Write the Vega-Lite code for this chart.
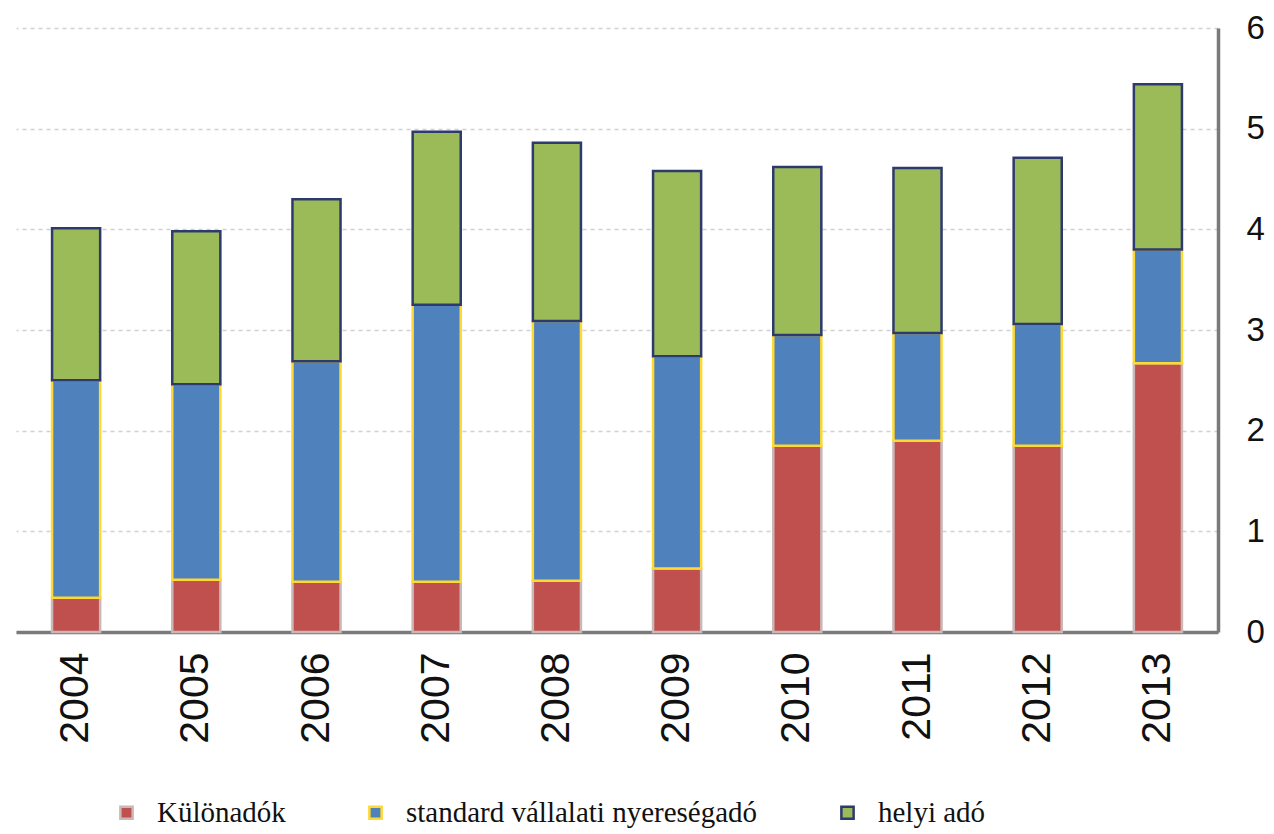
{
  "$schema": "https://vega.github.io/schema/vega-lite/v6.json",
  "autosize": {"type": "none"},
  "padding": {"left": 16, "top": 28, "right": 56, "bottom": 202},
  "width": 1202,
  "height": 604,
  "background": "white",
  "config": {"view": {"stroke": null}},
  "data": {"values": [
    {"ev": "2004", "kat": "Különadók", "o": 1, "v": 0.34},
    {"ev": "2004", "kat": "standard vállalati nyereségadó", "o": 2, "v": 2.16},
    {"ev": "2004", "kat": "helyi adó", "o": 3, "v": 1.51},
    {"ev": "2005", "kat": "Különadók", "o": 1, "v": 0.52},
    {"ev": "2005", "kat": "standard vállalati nyereségadó", "o": 2, "v": 1.94},
    {"ev": "2005", "kat": "helyi adó", "o": 3, "v": 1.52},
    {"ev": "2006", "kat": "Különadók", "o": 1, "v": 0.50},
    {"ev": "2006", "kat": "standard vállalati nyereségadó", "o": 2, "v": 2.19},
    {"ev": "2006", "kat": "helyi adó", "o": 3, "v": 1.61},
    {"ev": "2007", "kat": "Különadók", "o": 1, "v": 0.50},
    {"ev": "2007", "kat": "standard vállalati nyereségadó", "o": 2, "v": 2.75},
    {"ev": "2007", "kat": "helyi adó", "o": 3, "v": 1.72},
    {"ev": "2008", "kat": "Különadók", "o": 1, "v": 0.51},
    {"ev": "2008", "kat": "standard vállalati nyereségadó", "o": 2, "v": 2.58},
    {"ev": "2008", "kat": "helyi adó", "o": 3, "v": 1.77},
    {"ev": "2009", "kat": "Különadók", "o": 1, "v": 0.63},
    {"ev": "2009", "kat": "standard vállalati nyereségadó", "o": 2, "v": 2.11},
    {"ev": "2009", "kat": "helyi adó", "o": 3, "v": 1.84},
    {"ev": "2010", "kat": "Különadók", "o": 1, "v": 1.85},
    {"ev": "2010", "kat": "standard vállalati nyereségadó", "o": 2, "v": 1.10},
    {"ev": "2010", "kat": "helyi adó", "o": 3, "v": 1.67},
    {"ev": "2011", "kat": "Különadók", "o": 1, "v": 1.90},
    {"ev": "2011", "kat": "standard vállalati nyereségadó", "o": 2, "v": 1.07},
    {"ev": "2011", "kat": "helyi adó", "o": 3, "v": 1.64},
    {"ev": "2012", "kat": "Különadók", "o": 1, "v": 1.85},
    {"ev": "2012", "kat": "standard vállalati nyereségadó", "o": 2, "v": 1.21},
    {"ev": "2012", "kat": "helyi adó", "o": 3, "v": 1.65},
    {"ev": "2013", "kat": "Különadók", "o": 1, "v": 2.67},
    {"ev": "2013", "kat": "standard vállalati nyereségadó", "o": 2, "v": 1.13},
    {"ev": "2013", "kat": "helyi adó", "o": 3, "v": 1.64}
  ]},
  "mark": {"type": "bar", "strokeWidth": 2.5},
  "encoding": {
    "x": {
      "field": "ev", "type": "nominal", "title": null,
      "scale": {"paddingInner": 0.6, "paddingOuter": 0.3},
      "axis": {
        "labelAngle": -90, "labelAlign": "right", "labelBaseline": "middle",
        "labelFont": "Liberation Sans", "labelFontSize": 41, "labelColor": "#111111",
        "labelPadding": 20, "ticks": false,
        "domainColor": "#7a7a7a", "domainWidth": 3.5
      }
    },
    "y": {
      "field": "v", "type": "quantitative", "stack": "zero", "title": null,
      "scale": {"domain": [0, 6], "nice": false},
      "axis": {
        "orient": "right", "values": [0, 1, 2, 3, 4, 5, 6],
        "labelFont": "Liberation Sans", "labelFontSize": 33, "labelColor": "#111111",
        "labelPadding": 28, "ticks": false,
        "domainColor": "#7a7a7a", "domainWidth": 3.5,
        "grid": true, "gridColor": "#d0d0d0", "gridDash": [4, 4], "gridWidth": 1.5
      }
    },
    "fill": {
      "field": "kat", "type": "nominal", "title": null,
      "scale": {
        "domain": ["Különadók", "standard vállalati nyereségadó", "helyi adó"],
        "range": ["#C0504D", "#4F81BD", "#9BBB59"]
      },
      "legend": {
        "orient": "none", "legendX": 96, "legendY": 770, "direction": "horizontal",
        "columns": 3, "columnPadding": 75, "symbolType": "square", "symbolSize": 150,
        "symbolStrokeWidth": 2.5, "labelFont": "Liberation Serif", "labelFontSize": 29,
        "labelColor": "#111111", "labelLimit": 420, "labelOffset": 16
      }
    },
    "stroke": {
      "field": "kat", "type": "nominal", "title": null,
      "scale": {
        "domain": ["Különadók", "standard vállalati nyereségadó", "helyi adó"],
        "range": ["#C9B8B8", "#FFD92F", "#2E3A6E"]
      },
      "legend": null
    },
    "order": {"field": "o", "type": "quantitative"}
  }
}
